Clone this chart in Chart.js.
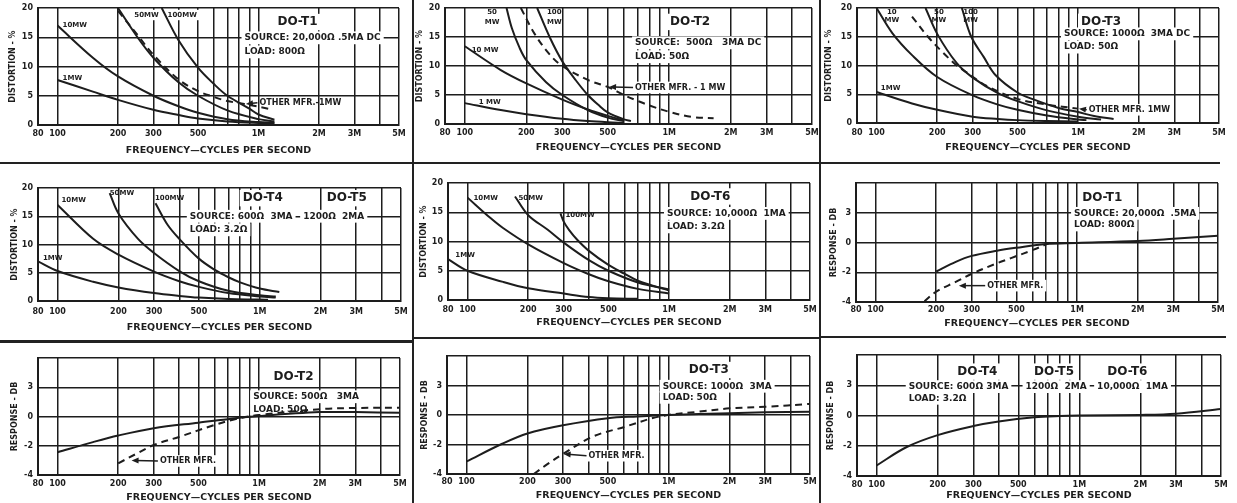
<!DOCTYPE html>
<html><head><meta charset="utf-8">
<script src="https://cdn.jsdelivr.net/npm/chart.js@4.4.1/dist/chart.umd.min.js"></script>
<style>
html,body{margin:0;padding:0;background:#fff;width:1237px;height:503px;overflow:hidden;position:relative}
canvas{position:absolute}
.sep{position:absolute;background:#222}
</style></head><body>
<div class="sep" style="left:0;top:162px;width:1220px;height:2px"></div>
<div class="sep" style="left:0;top:340px;width:413px;height:3px"></div>
<div class="sep" style="left:413px;top:337px;width:407px;height:2px"></div>
<div class="sep" style="left:820px;top:336px;width:406px;height:2px"></div>
<div class="sep" style="left:412px;top:0;width:2px;height:503px"></div>
<div class="sep" style="left:819px;top:0;width:2px;height:503px"></div>
<script>
// ---------- axis ticks ----------
const freqTicks = [80,100,200,300,400,500,600,700,800,900,1000,2000,3000,4000,5000];
const freqTickLabels = ['80','100','200','300','','500','','','','','1M','2M','3M','','5M'];
const distTicks = [0,5,10,15,20];
const distTickLabels = ['0','5','10','15','20'];
const respTicks = [-4,-2,0,2,4];
const respTickLabels = ['-4','-2','0','3',''];
const xTitle = 'FREQUENCY—CYCLES PER SECOND';
const distTitle = 'DISTORTION - %';
const respTitle = 'RESPONSE - DB';

// ---------- DO-T1 distortion ----------
const t1_1mw_f = [100,150,200,300,400,500,700,1000,1200];
const t1_1mw_v = [7.7,5.7,4.3,2.6,1.7,1.1,0.6,0.35,0.3];
const t1_10mw_f = [100,150,200,300,400,500,700,1000,1200];
const t1_10mw_v = [17,11.5,8.3,5,3.2,2.1,1.0,0.5,0.4];
const t1_50mw_f = [200,250,300,400,500,700,1000,1200];
const t1_50mw_v = [20,15,11.5,7.3,5,2.5,1,0.6];
const t1_100mw_f = [330,400,500,600,700,900,1000,1200];
const t1_100mw_v = [20,14.5,9.8,7,5,2.8,1.8,0.9];
const t1_oth_f = [200,250,300,400,500,600,700,850,1150];
const t1_oth_v = [19.5,15.4,12,7.8,5.8,4.8,4.1,3.6,2.7];

// ---------- DO-T2 distortion ----------
const t2_1mw_f = [100,150,200,300,400,500,600];
const t2_1mw_v = [3.6,2.4,1.7,0.9,0.5,0.3,0.2];
const t2_10mw_f = [100,150,200,300,400,500,600];
const t2_10mw_v = [13.4,9.3,7.0,4.2,2.5,1.4,0.6];
const t2_50mw_f = [160,170,185,200,250,300,400,500,600];
const t2_50mw_v = [20,16.5,13.2,11,7.2,5.0,2.4,1.1,0.5];
const t2_100mw_f = [226,260,300,350,400,450,500,600,650];
const t2_100mw_v = [20,15,10.8,7.5,5,3.3,2,0.8,0.5];
const t2_oth_f = [188,220,260,300,400,500,600,700,800,1000,1300,1650];
const t2_oth_v = [20,15.5,12,10,7.6,6.4,5.0,4.0,3.2,2.1,1.2,1.0];

// ---------- DO-T3 distortion ----------
const t3_1mw_f = [100,150,200,300,400,500,700,1000];
const t3_1mw_v = [5.4,3.4,2.3,1.1,0.7,0.5,0.35,0.25];
const t3_10mw_f = [100,120,150,200,300,400,500,700,1000,1100];
const t3_10mw_v = [20,15.6,11.8,8,4.8,3.2,2.3,1.3,0.6,0.5];
const t3_50mw_f = [175,200,250,300,400,500,700,1000,1300];
const t3_50mw_v = [20,15.5,10.4,7.9,5.2,3.8,2.2,1.1,0.6];
const t3_100mw_f = [265,295,340,390,500,600,800,1000,1200,1500];
const t3_100mw_v = [20,15,11.5,8.3,5.3,4.1,2.6,1.9,1.2,0.7];
const t3_oth_f = [150,180,210,250,280,350,500,700,1000];
const t3_oth_v = [18.5,15,12.5,10,8.8,6.5,4.2,3.2,2.5];

// ---------- DO-T4 / DO-T5 distortion ----------
const t4_1mw_f = [80,100,150,200,300,400,500,700,1000,1100];
const t4_1mw_v = [7.0,5.3,3.4,2.4,1.4,0.9,0.6,0.35,0.25,0.2];
const t4_10mw_f = [100,150,200,300,400,500,700,1000,1200];
const t4_10mw_v = [17,11,8.2,5.2,3.5,2.5,1.4,0.8,0.6];
const t4_50mw_f = [181,200,250,300,400,500,700,1000,1200];
const t4_50mw_v = [19.1,15.5,11,8.5,5.3,3.5,1.8,1.0,0.8];
const t4_100mw_f = [305,350,400,500,600,700,800,1000,1250];
const t4_100mw_v = [17.3,13.5,11,7.5,5.5,4.2,3.3,2.2,1.6];

// ---------- DO-T6 distortion ----------
const t6_1mw_f = [80,100,150,200,300,400,500,700];
const t6_1mw_v = [7.0,5.0,3.1,2.0,1.1,0.5,0.3,0.2];
const t6_10mw_f = [100,130,150,200,300,400,500,700,1000];
const t6_10mw_v = [17.5,14,12.3,9.5,6.3,4.4,3.2,1.9,1.1];
const t6_50mw_f = [172,200,250,300,400,500,700,1000];
const t6_50mw_v = [17.7,14.5,12,9.8,6.8,5,3,1.8];
const t6_100mw_f = [289,300,320,350,400,500,600,700,1000];
const t6_100mw_v = [14.8,13.4,11.9,10.3,8.4,6,4.5,3.3,1.6];

// ---------- response curves (dB) ----------
const r1_f = [200,250,300,400,500,700,1000,2000,3000,5000];
const r1_v = [-1.95,-1.3,-0.9,-0.55,-0.35,-0.1,-0.03,0.1,0.25,0.46];
const r1_oth_f = [175,200,250,300,400,470,630,720];
const r1_oth_v = [-3.95,-3.3,-2.65,-2.1,-1.4,-1.05,-0.4,-0.05];

const r2_f = [100,150,200,300,500,700,1000,2000,3000,5000];
const r2_v = [-2.45,-1.75,-1.3,-0.8,-0.42,-0.18,0.03,0.3,0.3,0.25];
const r2_oth_f = [200,250,300,400,600,750,1000,2000,3000,5000];
const r2_oth_v = [-3.2,-2.5,-1.95,-1.4,-0.58,-0.2,0.1,0.5,0.58,0.6];

const r3_f = [100,150,200,300,500,700,1000,2000,3000,5000];
const r3_v = [-3.15,-1.95,-1.25,-0.7,-0.22,-0.1,0,0.12,0.18,0.22];
const r3_oth_f = [215,250,300,420,610,900,1400,2000,3000,5000];
const r3_oth_v = [-4,-3.35,-2.64,-1.47,-0.79,-0.1,0.22,0.45,0.56,0.75];

const r4_f = [100,140,200,300,400,600,800,1000,2000,3000,5000];
const r4_v = [-3.3,-2.1,-1.3,-0.7,-0.4,-0.12,-0.03,0,0.04,0.12,0.43];

// ---------- drawing helpers ----------
const ink = '#1d1d1d';
const FONT = "'DejaVu Sans', sans-serif";
function pts(f, v){ return f.map((x,i)=>({x:x, y:v[i]})); }
function solid(f,v){ return {data:pts(f,v), borderColor:ink, borderWidth:2, pointRadius:0, fill:false, tension:0.35}; }
function dashed(f,v){ const d = solid(f,v); d.borderDash=[7,5]; return d; }

function annotPlugin(items){
  function geom(chart, it){
    const ctx = chart.ctx, xs = chart.scales.x, ys = chart.scales.y;
    const size = it.size||7;
    ctx.font = 'bold '+size+'px '+FONT;
    const px = xs.getPixelForValue(it.f), py = ys.getPixelForValue(it.v);
    const w = ctx.measureText(it.text).width;
    const x0 = it.align==='center' ? px-w/2 : px;
    return {size, px, py, w, x0};
  }
  return {
    id:'annot',
    beforeDatasetsDraw(chart){
      const ctx = chart.ctx;
      items.forEach(it=>{
        if(!it.bg) return;
        ctx.save();
        const g = geom(chart, it);
        ctx.fillStyle = '#fff';
        ctx.fillRect(g.x0-3, g.py-g.size*0.6-1, g.w+6, g.size*1.2+2);
        ctx.restore();
      });
    },
    afterDatasetsDraw(chart){
      const ctx = chart.ctx, xs = chart.scales.x, ys = chart.scales.y;
      items.forEach(it=>{
        ctx.save();
        const g = geom(chart, it);
        ctx.textBaseline = 'middle';
        ctx.textAlign = it.align||'left';
        ctx.fillStyle = ink;
        ctx.fillText(it.text, g.px, g.py);
        if(it.arrowTo){
          const tx = xs.getPixelForValue(it.arrowTo[0]), ty = ys.getPixelForValue(it.arrowTo[1]);
          const sx = g.x0-2, sy = g.py;
          const ang = Math.atan2(ty-sy, tx-sx);
          ctx.strokeStyle = ink; ctx.lineWidth = 1.5;
          ctx.beginPath(); ctx.moveTo(sx,sy); ctx.lineTo(tx-4*Math.cos(ang), ty-4*Math.sin(ang)); ctx.stroke();
          ctx.beginPath();
          ctx.moveTo(tx,ty);
          ctx.lineTo(tx-7*Math.cos(ang)+3*Math.sin(ang), ty-7*Math.sin(ang)-3*Math.cos(ang));
          ctx.lineTo(tx-7*Math.cos(ang)-3*Math.sin(ang), ty-7*Math.sin(ang)+3*Math.cos(ang));
          ctx.closePath(); ctx.fill();
        }
        ctx.restore();
      });
    }
  };
}

function makePanel(p){
  const [L,T,R,B] = p.box;
  const padL = 38, padT = 10, padR = 10;
  const padB = Math.round(p.titleOff + 5.7);
  const W = R-L+padL+padR, H = B-T+padT+padB;
  const cv = document.createElement('canvas');
  cv.width = W; cv.height = H;
  cv.style.left = (L-padL)+'px'; cv.style.top = (T-padT)+'px';
  cv.style.width = W+'px'; cv.style.height = H+'px';
  document.body.appendChild(cv);
  const isDist = p.kind==='dist';
  const yTicks = isDist ? distTicks : respTicks;
  const yLabels = isDist ? distTickLabels : respTickLabels;
  new Chart(cv, {
    type:'line',
    data:{datasets:p.series},
    options:{
      responsive:false, animation:false, devicePixelRatio:1,
      layout:{padding:{left:0,top:padT,right:padR,bottom:0}},
      plugins:{legend:{display:false}, tooltip:{enabled:false}},
      scales:{
        x:{
          type:'logarithmic', min:80, max:5000,
          afterBuildTicks:s=>{ s.ticks = freqTicks.map(v=>({value:v})); },
          afterFit:s=>{ s.height = padB; s.paddingLeft = 0; s.paddingRight = 0; },
          ticks:{autoSkip:false, maxRotation:0, minRotation:0, padding:p.tickOff-4.8, color:ink,
            font:{family:FONT, size:8, weight:'bold'},
            callback:v=>{ const i = freqTicks.indexOf(v); return i<0 ? '' : freqTickLabels[i]; }},
          grid:{color:ink, lineWidth:1.5, drawTicks:false},
          border:{color:ink, width:2},
          title:{display:true, text:xTitle, color:ink, font:{family:FONT, size:9.5, weight:'bold'}, padding:{top:0,bottom:0}}
        },
        y:{
          type:'linear', min:yTicks[0], max:yTicks[yTicks.length-1],
          afterBuildTicks:s=>{ s.ticks = yTicks.map(v=>({value:v})); },
          afterFit:s=>{ s.width = padL; s.paddingTop = 0; s.paddingBottom = 0; },
          ticks:{padding:5, color:ink, font:{family:FONT, size:8, weight:'bold'},
            callback:v=>{ const i = yTicks.indexOf(v); return i<0 ? '' : yLabels[i]; }},
          grid:{color:ink, lineWidth:1.5, drawTicks:false},
          border:{color:ink, width:2},
          title:{display:true, text:isDist?distTitle:respTitle, color:ink, font:{family:FONT, size:8, weight:'bold'}, padding:{top:p.yTitleOff-4.8, bottom:0}}
        }
      }
    },
    plugins:[annotPlugin(p.notes)]
  });
}

const panels = [
  {box:[38,8,399,125], kind:'dist', titleOff:25, tickOff:9, yTitleOff:13,
   series:[solid(t1_1mw_f,t1_1mw_v), solid(t1_10mw_f,t1_10mw_v), solid(t1_50mw_f,t1_50mw_v), solid(t1_100mw_f,t1_100mw_v), dashed(t1_oth_f,t1_oth_v)],
   notes:[
     {f:1563,v:17.6,text:'DO-T1',size:12,align:'center',bg:true},
     {f:852,v:14.9,text:'SOURCE: 20,000Ω .5MA DC',size:9,bg:true},
     {f:852,v:12.5,text:'LOAD: 800Ω',size:9,bg:true},
     {f:106,v:17.1,text:'10MW',size:7},
     {f:106,v:8.0,text:'1MW',size:7},
     {f:241,v:18.8,text:'50MW',size:7,bg:true},
     {f:353,v:18.8,text:'100MW',size:7,bg:true},
     {f:1011,v:3.8,text:'OTHER MFR.-1MW',size:8,arrowTo:[866,3.6]}
   ]},
  {box:[445,8,812,124], kind:'dist', titleOff:23, tickOff:9, yTitleOff:13,
   series:[solid(t2_1mw_f,t2_1mw_v), solid(t2_10mw_f,t2_10mw_v), solid(t2_50mw_f,t2_50mw_v), solid(t2_100mw_f,t2_100mw_v), dashed(t2_oth_f,t2_oth_v)],
   notes:[
     {f:1266,v:17.6,text:'DO-T2',size:12,align:'center',bg:true},
     {f:681,v:14.0,text:'SOURCE:  500Ω   3MA DC',size:9,bg:true},
     {f:681,v:11.6,text:'LOAD: 50Ω',size:9,bg:true},
     {f:136,v:19.2,text:'50',size:7,align:'center'},
     {f:136,v:17.6,text:'MW',size:7,align:'center'},
     {f:274,v:19.2,text:'100',size:7,align:'center'},
     {f:274,v:17.6,text:'MW',size:7,align:'center'},
     {f:108,v:12.8,text:'10 MW',size:7},
     {f:117,v:3.7,text:'1 MW',size:7},
     {f:681,v:6.3,text:'OTHER MFR. - 1 MW',size:8,bg:true,arrowTo:[508,6.4]}
   ]},
  {box:[857,8,1219,123], kind:'dist', titleOff:24, tickOff:10, yTitleOff:10,
   series:[solid(t3_1mw_f,t3_1mw_v), solid(t3_10mw_f,t3_10mw_v), solid(t3_50mw_f,t3_50mw_v), solid(t3_100mw_f,t3_100mw_v), dashed(t3_oth_f,t3_oth_v)],
   notes:[
     {f:1300,v:17.6,text:'DO-T3',size:12,align:'center',bg:true},
     {f:851,v:15.5,text:'SOURCE: 1000Ω  3MA DC',size:9,bg:true},
     {f:851,v:13.2,text:'LOAD: 50Ω',size:9,bg:true},
     {f:119,v:19.2,text:'10',size:7,align:'center'},
     {f:119,v:17.8,text:'MW',size:7,align:'center'},
     {f:204,v:19.2,text:'50',size:7,align:'center'},
     {f:204,v:17.8,text:'MW',size:7,align:'center'},
     {f:293,v:19.2,text:'100',size:7,align:'center'},
     {f:293,v:17.8,text:'MW',size:7,align:'center'},
     {f:105,v:6.1,text:'1MW',size:7},
     {f:1129,v:2.3,text:'OTHER MFR. 1MW',size:8,bg:true,arrowTo:[1010,2.5]}
   ]},
  {box:[38,188,401,301], kind:'dist', titleOff:26, tickOff:11, yTitleOff:15,
   series:[solid(t4_1mw_f,t4_1mw_v), solid(t4_10mw_f,t4_10mw_v), solid(t4_50mw_f,t4_50mw_v), solid(t4_100mw_f,t4_100mw_v)],
   notes:[
     {f:1035,v:18.2,text:'DO-T4',size:12,align:'center',bg:true},
     {f:2697,v:18.2,text:'DO-T5',size:12,align:'center',bg:true},
     {f:451,v:15.0,text:'SOURCE: 600Ω  3MA',size:9,bg:true},
     {f:1640,v:15.0,text:'1200Ω  2MA',size:9,bg:true},
     {f:451,v:12.6,text:'LOAD: 3.2Ω',size:9,bg:true},
     {f:104.5,v:17.9,text:'10MW',size:7},
     {f:181,v:19.1,text:'50MW',size:7},
     {f:303,v:18.2,text:'100MW',size:7},
     {f:84.6,v:7.6,text:'1MW',size:7}
   ]},
  {box:[448,183,810,300], kind:'dist', titleOff:22, tickOff:10, yTitleOff:14,
   series:[solid(t6_1mw_f,t6_1mw_v), solid(t6_10mw_f,t6_10mw_v), solid(t6_50mw_f,t6_50mw_v), solid(t6_100mw_f,t6_100mw_v)],
   notes:[
     {f:1600,v:17.7,text:'DO-T6',size:12,align:'center',bg:true},
     {f:976,v:14.8,text:'SOURCE: 10,000Ω  1MA',size:9,bg:true},
     {f:976,v:12.5,text:'LOAD: 3.2Ω',size:9,bg:true},
     {f:107,v:17.4,text:'10MW',size:7},
     {f:179,v:17.4,text:'50MW',size:7},
     {f:306,v:14.5,text:'100MW',size:7},
     {f:87,v:7.7,text:'1MW',size:7}
   ]},
  {box:[856,183,1218,302], kind:'resp', titleOff:21, tickOff:8, yTitleOff:16,
   series:[solid(r1_f,r1_v), dashed(r1_oth_f,r1_oth_v)],
   notes:[
     {f:1333,v:2.97,text:'DO-T1',size:12,align:'center',bg:true},
     {f:966,v:1.96,text:'SOURCE: 20,000Ω  .5MA',size:9,bg:true},
     {f:966,v:1.18,text:'LOAD: 800Ω',size:9,bg:true},
     {f:358,v:-2.9,text:'OTHER MFR.',size:8,bg:true,arrowTo:[259,-2.9]}
   ]},
  {box:[38,358,400,475], kind:'resp', titleOff:22, tickOff:9, yTitleOff:15,
   series:[solid(r2_f,r2_v), dashed(r2_oth_f,r2_oth_v)],
   notes:[
     {f:1482,v:2.72,text:'DO-T2',size:12,align:'center',bg:true},
     {f:934,v:1.35,text:'SOURCE: 500Ω   3MA',size:9,bg:true},
     {f:934,v:0.5,text:'LOAD: 50Ω',size:9,bg:true},
     {f:322,v:-3.04,text:'OTHER MFR.',size:8,bg:true,arrowTo:[233,-3.0]}
   ]},
  {box:[447,356,810,474], kind:'resp', titleOff:21, tickOff:8, yTitleOff:16,
   series:[solid(r3_f,r3_v), dashed(r3_oth_f,r3_oth_v)],
   notes:[
     {f:1578,v:3.05,text:'DO-T3',size:12,align:'center',bg:true},
     {f:933,v:1.95,text:'SOURCE: 1000Ω  3MA',size:9,bg:true},
     {f:933,v:1.2,text:'LOAD: 50Ω',size:9,bg:true},
     {f:401,v:-2.76,text:'OTHER MFR.',size:8,bg:true,arrowTo:[302,-2.64]}
   ]},
  {box:[857,355,1221,476], kind:'resp', titleOff:19, tickOff:9, yTitleOff:12,
   series:[solid(r4_f,r4_v)],
   notes:[
     {f:314,v:2.9,text:'DO-T4',size:12,align:'center',bg:true},
     {f:750,v:2.9,text:'DO-T5',size:12,align:'center',bg:true},
     {f:1726,v:2.9,text:'DO-T6',size:12,align:'center',bg:true},
     {f:144,v:1.91,text:'SOURCE: 600Ω 3MA',size:9,bg:true},
     {f:543,v:1.91,text:'1200Ω  2MA',size:9,bg:true},
     {f:1224,v:1.91,text:'10,000Ω  1MA',size:9,bg:true},
     {f:144,v:1.14,text:'LOAD: 3.2Ω',size:9,bg:true}
   ]}
];
panels.forEach(makePanel);
</script>
</body></html>
